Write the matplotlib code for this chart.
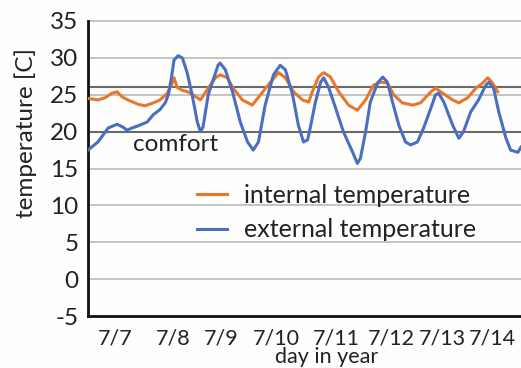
import matplotlib.pyplot as plt

plt.rcParams['font.family'] = ['Lato', 'DejaVu Sans']
plt.rcParams['axes.unicode_minus'] = False

# day offsets from the start of the record (7/6 evening)
ext_day = [0.0, 0.19, 0.39, 0.56, 0.68, 0.75, 0.85, 0.97, 1.14, 1.26, 1.39, 1.49,
           1.55, 1.61, 1.66, 1.74, 1.82, 1.91, 2.01, 2.11, 2.17, 2.22, 2.32, 2.51,
           2.55, 2.65, 2.79, 2.94, 3.08, 3.19, 3.29, 3.42, 3.58, 3.71, 3.81, 3.95,
           4.06, 4.16, 4.24, 4.29, 4.39, 4.49, 4.55, 4.64, 4.78, 4.93, 5.11, 5.20,
           5.26, 5.36, 5.45, 5.59, 5.69, 5.78, 5.88, 6.00, 6.13, 6.23, 6.36, 6.48,
           6.62, 6.71, 6.77, 6.87, 7.04, 7.16, 7.25, 7.39, 7.54, 7.68, 7.74, 7.83,
           7.93, 8.07, 8.16, 8.30, 8.36]
ext_temp = [17.5, 18.6, 20.5, 21.0, 20.6, 20.2, 20.5, 20.8, 21.3, 22.3, 23.0, 23.9,
            25.0, 27.3, 29.7, 30.3, 30.0, 28.1, 25.0, 21.3, 20.0, 20.6, 25.0, 29.0,
            29.3, 28.4, 25.4, 21.3, 18.6, 17.5, 18.6, 23.6, 27.7, 29.0, 28.4, 25.0,
            20.9, 18.6, 18.9, 20.5, 24.0, 26.7, 27.3, 26.1, 23.2, 20.0, 17.2, 15.7,
            16.4, 20.0, 24.0, 26.6, 27.4, 26.7, 24.0, 20.9, 18.6, 18.2, 18.6, 20.5,
            23.2, 25.0, 25.2, 24.0, 20.9, 19.1, 20.0, 22.7, 24.3, 26.3, 26.7, 25.9,
            22.7, 19.1, 17.5, 17.2, 17.9]

int_day = [0.0, 0.19, 0.33, 0.46, 0.56, 0.66, 0.77, 0.97, 1.10, 1.26, 1.39, 1.53,
           1.61, 1.66, 1.72, 1.82, 1.93, 2.07, 2.17, 2.32, 2.46, 2.55, 2.69, 2.80,
           2.98, 3.17, 3.33, 3.52, 3.68, 3.81, 3.97, 4.14, 4.26, 4.33, 4.45, 4.55,
           4.68, 4.84, 5.03, 5.20, 5.36, 5.51, 5.65, 5.78, 5.90, 6.07, 6.27, 6.42,
           6.62, 6.71, 6.85, 7.04, 7.16, 7.33, 7.49, 7.62, 7.72, 7.81, 7.91]
int_temp = [24.5, 24.3, 24.6, 25.2, 25.4, 24.7, 24.3, 23.7, 23.5, 23.9, 24.3, 25.2,
            26.3, 27.3, 26.0, 25.6, 25.4, 24.8, 24.3, 25.9, 27.3, 27.7, 27.3, 25.9,
            24.3, 23.6, 25.0, 26.7, 28.0, 27.3, 25.4, 24.3, 24.0, 25.4, 27.4, 28.0,
            27.4, 25.4, 23.6, 22.9, 24.3, 26.3, 26.7, 26.6, 25.0, 23.9, 23.6, 23.9,
            25.4, 25.9, 25.2, 24.3, 23.9, 24.6, 25.9, 26.6, 27.3, 26.6, 25.4]

day_ticks = [0.52, 1.64, 2.57, 3.64, 4.80, 5.86, 6.85, 7.81]
day_labels = ['7/7', '7/8', '7/9', '7/10', '7/11', '7/12', '7/13', '7/14']
comfort_band = [20, 26]

fs = 17.5
txt = '#222222'

fig = plt.figure(figsize=(5.21, 3.68), dpi=100, facecolor='#fefefc')
ax = fig.add_axes([0.169, 0.141, 0.831, 0.802])
ax.set_facecolor('#fefefc')

for y in range(0, 40, 5):
    ax.axhline(y, color='#c4c4c4', lw=1.4, zorder=1, clip_on=False)
for y in comfort_band:
    ax.axhline(y, color='#6a6a6a', lw=1.5, zorder=2)

ax.plot(int_day, int_temp, color='#e8772e', lw=2.2, zorder=3, label='internal temperature')
ax.plot(ext_day, ext_temp, color='#4a6fc0', lw=2.2, zorder=4, label='external temperature')

ax.text(0.87, 18.3, 'comfort', fontsize=fs, va='center', ha='left', color=txt)

ax.set_xlim(0, 8.36)
ax.set_ylim(-5, 35)
ax.set_yticks(range(-5, 40, 5))
ax.set_xticks(day_ticks)
ax.set_xticklabels(day_labels)
ax.tick_params(length=0, colors=txt)
ax.tick_params(axis='y', labelsize=fs, pad=7)
ax.tick_params(axis='x', labelsize=15.5, pad=9)
ax.set_ylabel('temperature [C]', fontsize=fs, color=txt)
ax.yaxis.set_label_coords(-0.118, 0.62)
ax.set_xlabel('day in year', fontsize=15.5, color=txt)
ax.xaxis.set_label_coords(0.55, -0.105)

for s in ['top', 'right']:
    ax.spines[s].set_visible(False)
for s in ['left', 'bottom']:
    ax.spines[s].set_linewidth(2)
    ax.spines[s].set_color('#111111')

ax.legend(loc='upper left', bbox_to_anchor=(0.378, 0.50), bbox_transform=fig.transFigure,
          frameon=False, fontsize=18, handlelength=1.2, handletextpad=0.7,
          labelspacing=0.45, borderpad=0, borderaxespad=0, labelcolor=txt)

plt.savefig('out.png', dpi=100, facecolor=fig.get_facecolor())
